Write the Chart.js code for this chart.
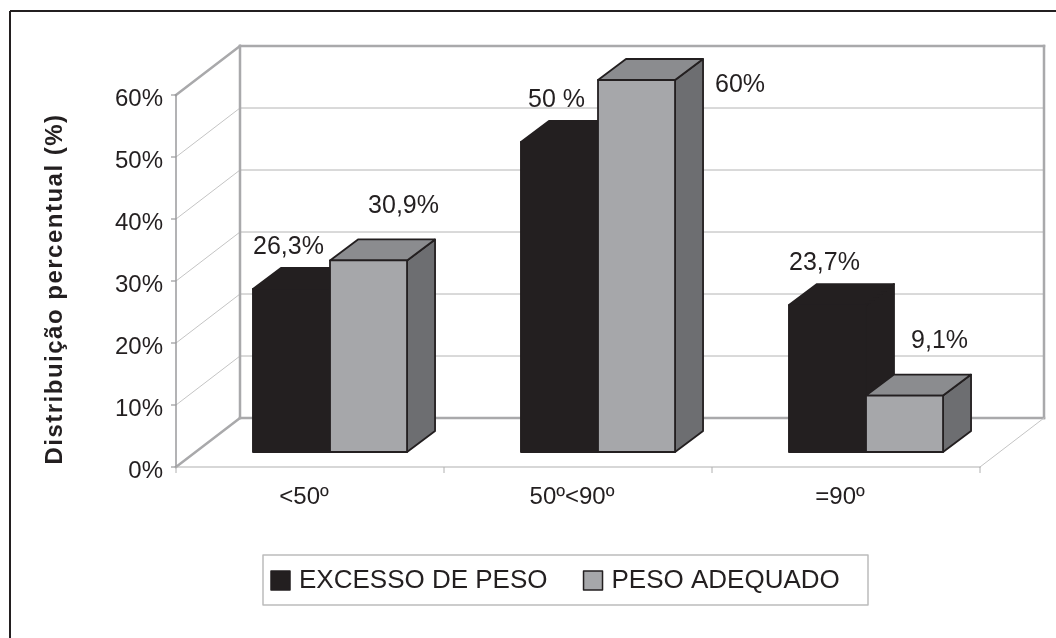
<!DOCTYPE html>
<html>
<head>
<meta charset="utf-8">
<script src="https://cdn.jsdelivr.net/npm/chart.js@4/dist/chart.umd.min.js"></script>
<style>
  html, body { margin: 0; padding: 0; background: #fff; }
  #wrap { width: 1056px; height: 638px; position: relative; }
</style>
</head>
<body>
<div id="wrap"><canvas id="chart" width="1056" height="638"></canvas></div>
<script>
// data
const categories = ['<50º', '50º<90º', '=90º'];
const excessoPeso = [26.3, 50, 23.7];
const pesoAdequado = [30.9, 60, 9.1];
const excessoLabels = ['26,3%', '50 %', '23,7%'];
const adequadoLabels = ['30,9%', '60%', '9,1%'];
const yTicks = [0, 10, 20, 30, 40, 50, 60];
const seriesNames = ['EXCESSO DE PESO', 'PESO ADEQUADO'];

// 3d look: offsets from the bar plane
const FRONT = { dx: -20, dy: 15 };
const BACK = { dx: 44, dy: -34 };
const DEPTH = { dx: 28, dy: -21 };
const FONT = '"Liberation Sans", Arial, sans-serif';

const faces = [
  { front: '#231f20', top: '#231f20', side: '#231f20' },
  { front: '#a6a7aa', top: '#8b8c8f', side: '#6d6e71' }
];

function poly(ctx, pts, fill, stroke, lw) {
  ctx.beginPath();
  ctx.moveTo(pts[0][0], pts[0][1]);
  for (let i = 1; i < pts.length; i++) ctx.lineTo(pts[i][0], pts[i][1]);
  ctx.closePath();
  if (fill) { ctx.fillStyle = fill; ctx.fill(); }
  if (stroke) { ctx.strokeStyle = stroke; ctx.lineWidth = lw || 1.5; ctx.lineJoin = 'round'; ctx.stroke(); }
}

function line(ctx, x1, y1, x2, y2, color, lw) {
  ctx.beginPath();
  ctx.moveTo(x1, y1);
  ctx.lineTo(x2, y2);
  ctx.strokeStyle = color;
  ctx.lineWidth = lw;
  ctx.stroke();
}

const boxPlugin = {
  id: 'box3d',
  beforeDatasetsDraw(chart) {
    const ctx = chart.ctx;
    const a = chart.chartArea;
    const y = chart.scales.y;
    const y0 = y.getPixelForValue(0);
    const yMax = y.getPixelForValue(yTicks[yTicks.length - 1]);
    ctx.save();

    // outer frame (only top and left show)
    line(ctx, 10, 11, 1056, 11, '#231f20', 2);
    line(ctx, 10, 11, 10, 638, '#231f20', 2);

    // gridlines on back wall and side wall
    yTicks.forEach(v => {
      const py = y.getPixelForValue(v);
      if (v > 0 && v < yTicks[yTicks.length - 1]) {
        line(ctx, a.left + BACK.dx, py + BACK.dy, a.right + BACK.dx, py + BACK.dy, '#b4b4b4', 1);
      }
      if (v > 0) {
        line(ctx, a.left + FRONT.dx, py + FRONT.dy, a.left + BACK.dx, py + BACK.dy, '#c4c4c4', 1);
      }
    });

    // wall outline
    ctx.lineCap = 'square';
    const wallC = '#a9a9ab';
    line(ctx, a.left + FRONT.dx, yMax + FRONT.dy, a.left + BACK.dx, yMax + BACK.dy, wallC, 2.5);
    line(ctx, a.left + BACK.dx, yMax + BACK.dy, a.right + BACK.dx, yMax + BACK.dy, wallC, 2.5);
    line(ctx, a.left + BACK.dx, yMax + BACK.dy, a.left + BACK.dx, y0 + BACK.dy, wallC, 2.5);
    line(ctx, a.right + BACK.dx, yMax + BACK.dy, a.right + BACK.dx, y0 + BACK.dy, wallC, 2.5);
    line(ctx, a.left + BACK.dx, y0 + BACK.dy, a.right + BACK.dx, y0 + BACK.dy, wallC, 2.5);
    line(ctx, a.left + FRONT.dx, y0 + FRONT.dy, a.left + BACK.dx, y0 + BACK.dy, wallC, 2.5);
    line(ctx, a.right + FRONT.dx, y0 + FRONT.dy, a.right + BACK.dx, y0 + BACK.dy, '#c4c4c4', 1);

    // front axis and floor edge
    line(ctx, a.left + FRONT.dx, yMax + FRONT.dy, a.left + FRONT.dx, y0 + FRONT.dy, '#9a9a9c', 1.5);
    line(ctx, a.left + FRONT.dx, y0 + FRONT.dy, a.right + FRONT.dx, y0 + FRONT.dy, '#b0b0b0', 1.2);
    ctx.lineCap = 'butt';

    // y ticks and labels
    ctx.fillStyle = '#231f20';
    ctx.font = '24px ' + FONT;
    ctx.textAlign = 'right';
    ctx.textBaseline = 'middle';
    yTicks.forEach(v => {
      const py = y.getPixelForValue(v) + FRONT.dy;
      line(ctx, a.left + FRONT.dx - 5, py, a.left + FRONT.dx, py, '#9a9a9c', 1.2);
      ctx.fillText(v + '%', a.left + FRONT.dx - 13, py + 4);
    });

    // category ticks and labels
    const x = chart.scales.x;
    const step = (a.right - a.left) / categories.length;
    for (let i = 0; i <= categories.length; i++) {
      const px = a.left + i * step + FRONT.dx;
      line(ctx, px, y0 + FRONT.dy, px, y0 + FRONT.dy + 6, '#b0b0b0', 1);
    }
    ctx.textAlign = 'center';
    categories.forEach((c, i) => {
      ctx.fillText(c, x.getPixelForValue(i) + FRONT.dx - 6, y0 + FRONT.dy + 30);
    });

    // y title
    ctx.save();
    ctx.translate(55, (yMax + y0) / 2 + FRONT.dy + 8);
    ctx.rotate(-Math.PI / 2);
    ctx.font = 'bold 24px ' + FONT;
    ctx.letterSpacing = '1.5px';
    ctx.textAlign = 'center';
    ctx.textBaseline = 'middle';
    ctx.fillText('Distribuição percentual (%)', 0, 0);
    ctx.restore();

    ctx.restore();
  },
  afterDatasetsDraw(chart) {
    const ctx = chart.ctx;
    const a = chart.chartArea;
    const metas = chart.data.datasets.map((ds, di) => chart.getDatasetMeta(di));
    ctx.save();

    // boxes, category by category, black first so the grey one sits in front
    categories.forEach((c, i) => {
      metas.forEach((meta, di) => {
        const bar = meta.data[i];
        const f = faces[di];
        const l = bar.x - bar.width / 2, r = bar.x + bar.width / 2, t = bar.y, b = bar.base;
        const front = [[l, t], [r, t], [r, b], [l, b]];
        const top = [[l, t], [r, t], [r + DEPTH.dx, t + DEPTH.dy], [l + DEPTH.dx, t + DEPTH.dy]];
        const side = [[r, t], [r + DEPTH.dx, t + DEPTH.dy], [r + DEPTH.dx, b + DEPTH.dy], [r, b]];
        poly(ctx, side, f.side, '#231f20', 1.8);
        poly(ctx, top, f.top, '#231f20', 1.8);
        poly(ctx, front, f.front, '#231f20', 1.8);
      });
    });

    // value labels
    ctx.fillStyle = '#231f20';
    ctx.font = '25px ' + FONT;
    ctx.textBaseline = 'middle';
    const labelSets = [excessoLabels, adequadoLabels];
    metas.forEach((meta, di) => {
      meta.data.forEach((bar, i) => {
        const txt = labelSets[di][i];
        if (di === 0) {
          ctx.textAlign = 'center';
          ctx.fillText(txt, bar.x - 3, bar.y - 42);
        } else if (bar.y - 54 - 12 < a.top + BACK.dy) {
          ctx.textAlign = 'left';
          ctx.fillText(txt, bar.x + bar.width / 2 + DEPTH.dx + 12, bar.y + 5);
        } else {
          ctx.textAlign = 'center';
          ctx.fillText(txt, bar.x + 35, bar.y - 54);
        }
      });
    });

    // legend
    const lx = 263, ly = 555, lw = 605, lh = 50;
    ctx.strokeStyle = '#bcbcbc';
    ctx.lineWidth = 1.5;
    ctx.strokeRect(lx, ly, lw, lh);
    ctx.font = '26px ' + FONT;
    ctx.textAlign = 'left';
    let cx = lx + 8;
    seriesNames.forEach((name, i) => {
      ctx.fillStyle = faces[i].front;
      ctx.fillRect(cx, ly + 16, 19, 19);
      ctx.strokeStyle = '#231f20';
      ctx.lineWidth = 1.5;
      ctx.strokeRect(cx, ly + 16, 19, 19);
      ctx.fillStyle = '#231f20';
      ctx.fillText(name, cx + 28, ly + 26);
      cx += 28 + ctx.measureText(name).width + 36;
    });
    ctx.restore();
  }
};

new Chart(document.getElementById('chart'), {
  type: 'bar',
  data: {
    labels: categories,
    datasets: [
      { label: seriesNames[0], data: excessoPeso, backgroundColor: faces[0].front, borderWidth: 0 },
      { label: seriesNames[1], data: pesoAdequado, backgroundColor: faces[1].front, borderWidth: 0 }
    ]
  },
  options: {
    responsive: false,
    animation: false,
    layout: { padding: { left: 196, right: 56, top: 80, bottom: 186 } },
    datasets: { bar: { categoryPercentage: 0.575, barPercentage: 1 } },
    scales: {
      x: { display: false },
      y: { display: false, min: 0, max: 60 }
    },
    plugins: { legend: { display: false }, tooltip: { enabled: false } }
  },
  plugins: [boxPlugin]
});
</script>
</body>
</html>
